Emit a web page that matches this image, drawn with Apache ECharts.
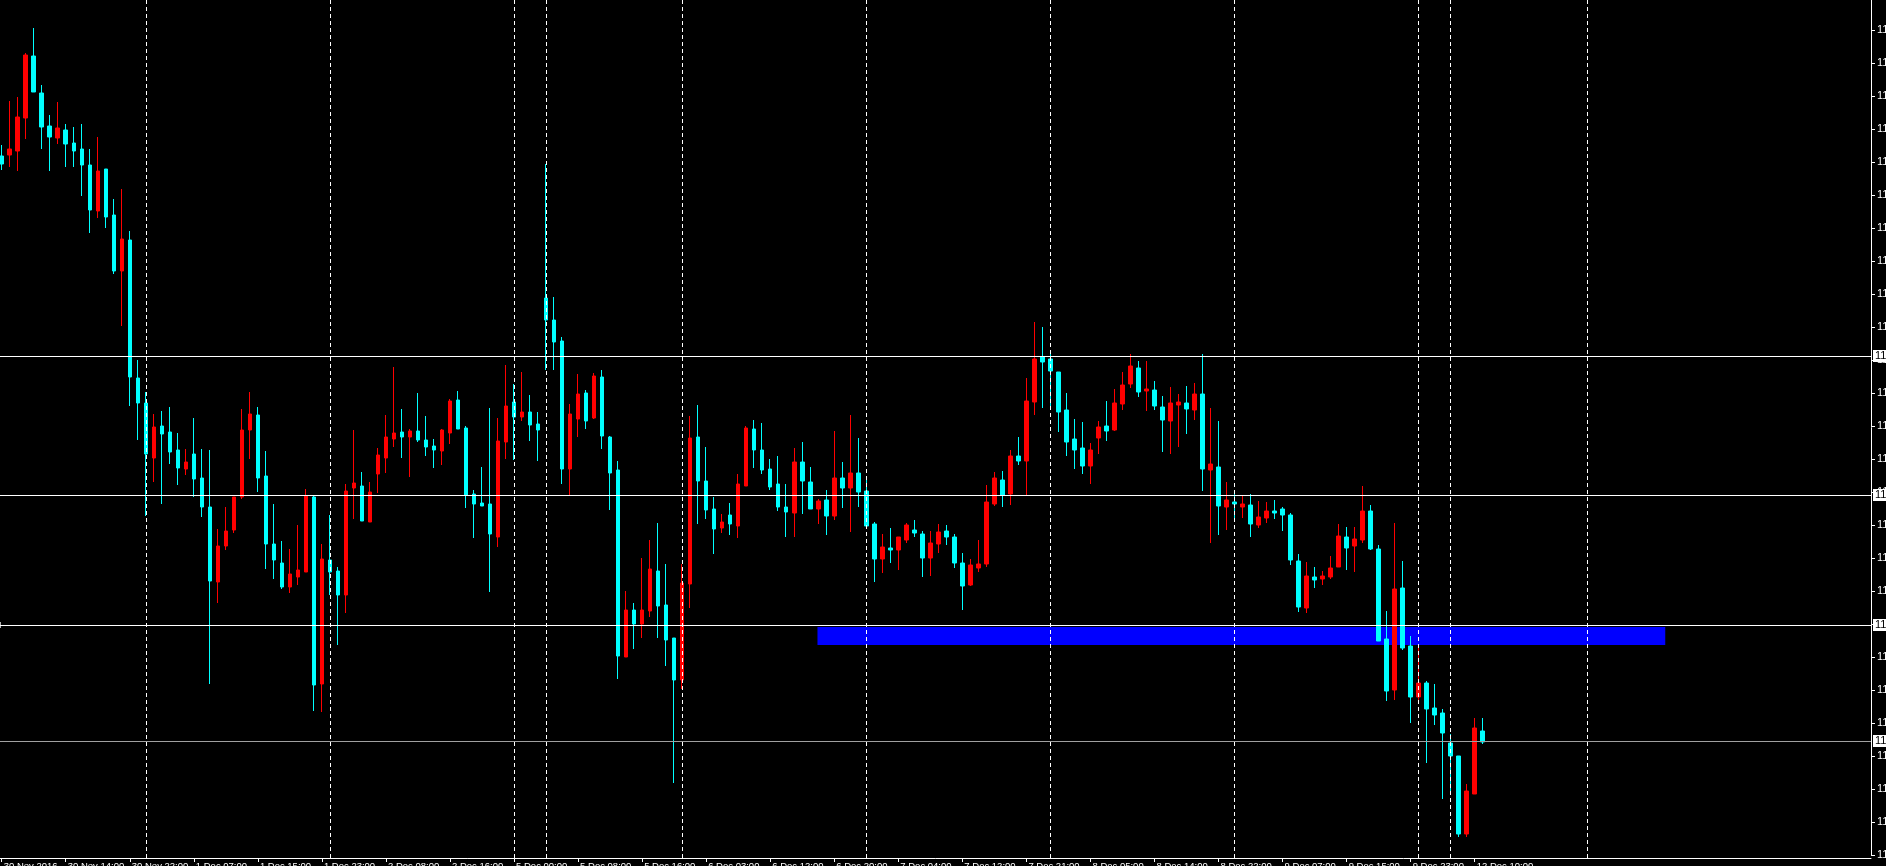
<!DOCTYPE html>
<html><head><meta charset="utf-8">
<script src="https://cdn.jsdelivr.net/npm/echarts@6/dist/echarts.min.js"></script>
<style>html,body{margin:0;padding:0;background:#000;overflow:hidden}#c{width:1886px;height:866px}</style>
</head><body><div id="c"></div>
<script>
const opens = [
1185.3,1185.4,1185.8,1189.1,1195.3,1191.6,1188.3,1187.1,1187.9,1186.6,
1186.0,1184.4,1179.8,1184.0,1179.4,1173.8,1176.9,1163.1,1160.6,1155.1,
1158.3,1157.7,1155.9,1154.0,1155.5,1153.1,1150.2,1142.7,1146.3,1147.9,
1151.2,1157.9,1159.4,1153.3,1146.5,1144.6,1142.2,1143.2,1143.7,1151.2,
1132.5,1144.9,1143.8,1141.4,1152.1,1152.3,1148.7,1153.5,1155.1,1157.0,
1157.7,1157.2,1157.8,1156.9,1156.3,1155.8,1157.6,1160.9,1158.1,1151.5,
1150.6,1150.5,1147.2,1156.7,1160.7,1159.2,1159.7,1158.5,1171.1,1168.9,
1166.8,1154.0,1159.0,1161.6,1159.1,1163.2,1157.2,1153.9,1135.2,1139.9,
1138.5,1139.8,1143.8,1140.4,1137.1,1132.9,1142.5,1157.2,1152.8,1150.0,
1148.1,1149.4,1148.3,1152.3,1158.0,1155.9,1154.0,1152.5,1150.2,1149.6,
1154.7,1152.7,1150.0,1150.9,1149.3,1153.1,1152.1,1153.6,1151.8,1148.5,
1145.0,1146.1,1145.9,1146.9,1147.9,1147.5,1145.1,1146.5,1147.8,1147.2,
1144.6,1142.4,1144.1,1144.5,1150.5,1152.9,1151.5,1155.3,1154.8,1160.7,
1165.2,1165.0,1163.7,1159.9,1157.0,1156.1,1154.3,1157.1,1158.3,1157.9,
1160.5,1162.5,1164.1,1161.8,1161.9,1160.2,1158.8,1160.4,1160.6,1159.9,
1161.5,1153.9,1154.2,1150.2,1150.7,1150.2,1150.4,1148.4,1149.1,1149.8,
1150.0,1149.4,1144.8,1140.1,1143.2,1143.0,1143.2,1144.2,1147.2,1146.3,
1146.9,1149.8,1146.0,1137.0,1131.9,1142.1,1136.3,1131.2,1132.6,1130.1,
1129.6,1126.6,1125.3,1117.5,1121.5,1127.8];
const closes = [
1184.5,1186.0,1189.2,1195.4,1191.7,1188.2,1187.2,1188.1,1186.5,1185.8,
1184.4,1179.9,1183.8,1179.2,1173.8,1177.0,1163.2,1160.6,1155.5,1158.2,
1157.5,1155.7,1154.1,1154.7,1153.0,1150.2,1142.8,1146.3,1147.8,1151.2,
1157.9,1159.5,1153.1,1146.5,1144.9,1142.2,1143.5,1143.9,1151.3,1132.4,
1145.0,1143.7,1141.4,1151.8,1152.6,1148.8,1151.7,1155.4,1157.2,1157.6,
1157.2,1157.8,1156.9,1156.2,1155.9,1157.9,1160.8,1158.0,1151.4,1150.5,
1150.3,1147.5,1156.8,1160.3,1159.2,1159.7,1158.4,1157.9,1168.9,1166.7,
1154.0,1159.5,1161.5,1158.8,1163.3,1157.3,1153.6,1135.3,1139.9,1138.5,
1139.9,1144.0,1140.3,1136.9,1132.9,1142.6,1157.1,1152.8,1149.9,1148.0,
1148.7,1148.5,1152.5,1158.1,1155.9,1153.9,1152.2,1150.2,1149.7,1154.7,
1152.8,1150.0,1150.8,1149.3,1153.1,1152.1,1153.6,1151.7,1148.3,1145.0,
1146.2,1145.9,1147.2,1148.4,1147.6,1145.1,1146.6,1147.7,1147.2,1144.6,
1142.3,1144.4,1144.5,1150.7,1153.1,1151.4,1155.3,1154.8,1160.8,1165.0,
1164.7,1163.8,1159.7,1156.7,1155.9,1154.3,1155.9,1158.2,1157.8,1160.6,
1162.4,1164.3,1161.7,1162.0,1160.3,1158.9,1160.6,1160.7,1160.0,1161.5,
1154.0,1154.5,1150.3,1150.9,1150.5,1150.5,1148.5,1149.2,1149.8,1149.6,
1149.4,1144.9,1140.2,1143.3,1142.9,1143.3,1144.1,1147.3,1146.1,1147.0,
1149.8,1146.0,1136.8,1131.8,1142.0,1136.1,1131.2,1132.6,1130.0,1129.4,
1127.6,1125.3,1117.5,1121.8,1128.1,1126.7];
const highs = [
1186.4,1190.8,1191.2,1195.6,1198.1,1192.4,1189.4,1190.7,1188.5,1188.2,
1188.5,1186.0,1187.2,1184.0,1181.0,1182.0,1177.8,1164.9,1161.7,1159.5,
1159.8,1160.2,1157.6,1156.0,1159.1,1156.0,1155.9,1148.0,1150.2,1151.2,
1160.0,1161.7,1160.2,1155.8,1150.5,1146.8,1146.0,1148.4,1152.0,1151.3,
1146.5,1149.4,1144.2,1152.5,1157.9,1153.7,1152.7,1156.1,1159.4,1164.2,
1160.0,1158.0,1161.6,1159.3,1157.0,1158.0,1161.0,1161.8,1158.3,1151.9,
1154.2,1160.1,1159.1,1164.4,1162.5,1163.7,1161.4,1159.7,1184.5,1171.2,
1167.2,1160.5,1163.5,1161.9,1163.6,1163.9,1157.3,1154.8,1141.8,1140.6,
1145.1,1146.9,1148.6,1144.5,1137.1,1144.5,1159.3,1160.4,1156.2,1151.2,
1149.5,1150.6,1153.5,1158.3,1158.9,1158.6,1155.0,1155.3,1152.5,1156.1,
1156.7,1154.2,1151.0,1151.9,1157.8,1154.7,1159.4,1157.1,1153.3,1148.7,
1147.5,1148.1,1147.2,1148.6,1148.9,1147.8,1147.8,1148.5,1148.4,1147.5,
1145.6,1145.0,1146.9,1152.4,1153.7,1153.8,1155.9,1157.2,1163.1,1168.7,
1168.2,1165.9,1163.7,1161.6,1159.0,1158.7,1156.6,1158.8,1160.8,1162.0,
1163.7,1165.5,1164.8,1164.8,1162.8,1161.3,1162.2,1161.5,1162.3,1162.6,
1165.5,1160.1,1158.8,1152.7,1151.5,1151.4,1151.5,1150.8,1150.7,1150.9,
1150.2,1149.6,1145.5,1144.7,1144.2,1143.8,1145.3,1148.5,1148.2,1148.2,
1152.3,1150.4,1146.4,1139.8,1148.6,1144.8,1137.3,1136.1,1132.8,1132.5,
1130.0,1127.5,1125.3,1122.5,1129.1,1129.1];
const lows = [
1183.9,1184.2,1183.8,1187.0,1191.7,1186.0,1183.8,1186.5,1184.2,1184.2,
1181.3,1177.6,1179.1,1178.1,1173.5,1168.3,1160.3,1156.9,1149.3,1152.7,
1150.5,1154.5,1152.4,1153.4,1151.2,1149.2,1132.5,1140.6,1145.9,1147.6,
1151.0,1155.0,1151.7,1144.0,1143.0,1142.0,1141.6,1142.4,1143.7,1129.8,
1129.7,1141.4,1136.4,1139.6,1149.0,1148.8,1148.7,1151.6,1153.6,1156.2,
1155.1,1153.2,1156.7,1155.3,1154.1,1154.4,1156.5,1158.0,1150.1,1147.1,
1150.3,1141.7,1146.2,1155.0,1154.9,1158.8,1156.8,1154.8,1163.9,1163.9,
1152.5,1151.4,1157.2,1158.0,1159.0,1156.0,1149.9,1133.0,1135.2,1136.0,
1137.1,1139.2,1137.1,1134.3,1122.6,1132.0,1140.1,1148.5,1149.0,1145.5,
1147.6,1147.4,1147.1,1152.3,1154.1,1153.5,1151.9,1149.8,1147.2,1147.2,
1149.5,1150.0,1148.5,1147.4,1148.9,1150.1,1147.7,1150.2,1148.3,1142.7,
1143.6,1144.6,1143.9,1146.6,1147.2,1143.2,1143.3,1145.6,1146.4,1144.1,
1139.9,1142.3,1143.7,1144.2,1150.3,1150.2,1150.4,1154.4,1151.4,1159.4,
1160.1,1160.1,1157.7,1155.3,1154.0,1153.5,1152.5,1155.5,1156.8,1157.8,
1159.9,1162.1,1161.2,1159.8,1159.9,1155.7,1155.5,1156.2,1157.5,1158.9,
1151.8,1146.6,1147.4,1147.9,1148.8,1149.1,1147.2,1148.1,1148.6,1149.0,
1147.8,1144.4,1139.7,1139.6,1142.1,1142.4,1143.0,1144.2,1143.9,1143.7,
1146.6,1145.9,1136.8,1130.8,1130.9,1135.9,1128.6,1130.5,1124.6,1128.4,
1121.0,1121.8,1117.2,1117.2,1121.5,1126.5];
const xTickLabels = ["30 Nov 2016","30 Nov 14:00","30 Nov 22:00","1 Dec 07:00","1 Dec 15:00","1 Dec 23:00",
"2 Dec 08:00","2 Dec 16:00","5 Dec 00:00","5 Dec 08:00","5 Dec 16:00","6 Dec 03:00","6 Dec 12:00",
"6 Dec 20:00","7 Dec 04:00","7 Dec 12:00","7 Dec 21:00","8 Dec 05:00","8 Dec 14:00","8 Dec 22:00",
"9 Dec 07:00","9 Dec 15:00","9 Dec 23:00","12 Dec 10:00"];
const levelPrices = [1165.3, 1151.4, 1138.4, 1126.8];
const separatorBars = [18, 41, 64, 68, 85, 108, 131, 154, 177, 181, 198];
const zoneBars = [101.9, 207.8];
const zonePrices = [1138.2, 1136.4];
const slotCount = 234;
const labelStep = 8;

const cats = []; for (let i = 0; i < slotCount; i++) cats.push(String(i));
const candles = opens.map((o, i) => [o, closes[i], lows[i], highs[i]]);
const lastBar = opens.length - 1;
const showTick = (idx) => idx % labelStep === 0 && idx <= lastBar;

const chart = echarts.init(document.getElementById('c'), null, {renderer: 'canvas'});
const font = 'Liberation Sans, DejaVu Sans, sans-serif';
chart.setOption({
  backgroundColor: '#000000',
  animation: false,
  grid: [
    {left: -2.3, right: 15, top: 0, bottom: 11, containLabel: false, outerBoundsMode: 'none'},
    {left: -2.3, right: 15, top: 0, bottom: 8, containLabel: false, outerBoundsMode: 'none'}
  ],
  xAxis: [
    {type: 'category', gridIndex: 0, data: cats, boundaryGap: true, offset: 3,
     axisLine: {show: true, lineStyle: {color: '#ffffff', width: 1}},
     axisTick: {show: true, alignWithLabel: true, interval: (i) => showTick(i), length: 4, lineStyle: {color: '#ffffff'}},
     axisLabel: {show: true, interval: (i) => showTick(i), color: '#ffffff', fontSize: 9.5, fontFamily: font,
       align: 'left', margin: 3, padding: [0, 0, 0, 2], hideOverlap: false,
       formatter: (v, i) => { const k = Math.round(Number(v)); return (k % labelStep === 0 && k / labelStep < xTickLabels.length) ? xTickLabels[k / labelStep] : ''; }},
     splitLine: {show: false}},
    {type: 'value', gridIndex: 1, min: -0.5, max: slotCount - 0.5, show: false}
  ],
  yAxis: [
    {type: 'value', gridIndex: 0, position: 'right', min: 1115.4, max: 1200.9, interval: 3.3,
     axisLine: {show: true, lineStyle: {color: '#ffffff', width: 1}},
     axisTick: {show: true, inside: false, length: 4, lineStyle: {color: '#ffffff'}},
     axisLabel: {show: true, color: '#ffffff', fontSize: 11, fontFamily: font, margin: 6, showMaxLabel: false, hideOverlap: false,
       formatter: (v) => v.toFixed(2)},
     splitLine: {show: false}},
    {type: 'value', gridIndex: 1, min: 1115.1, max: 1200.9, show: false}
  ],
  series: [
    {type: 'line', xAxisIndex: 1, yAxisIndex: 1, data: [], z: 1, symbol: 'none', silent: true,
     markArea: {silent: true, itemStyle: {color: '#0000ff', opacity: 1},
       data: [[{xAxis: zoneBars[0], yAxis: zonePrices[0]}, {xAxis: zoneBars[1], yAxis: zonePrices[1]}]]},
     markLine: {silent: true, symbol: 'none', animation: false,
       lineStyle: {color: '#ffffff', width: 1, type: [4, 3]},
       label: {show: false},
       data: separatorBars.map(b => ({xAxis: b}))}
    },
    {type: 'candlestick', xAxisIndex: 0, yAxisIndex: 0, data: candles, barWidth: 4, z: 2,
     itemStyle: {color: '#ff0000', color0: '#00ffff', borderColor: '#ff0000', borderColor0: '#00ffff', borderWidth: 1}},
    {type: 'line', xAxisIndex: 1, yAxisIndex: 1, data: [], z: 3, symbol: 'none', silent: true,
     markLine: {silent: true, symbol: 'none', animation: false,
       label: {show: true, position: 'end', distance: 2, color: '#000000', backgroundColor: '#ffffff',
         fontSize: 11, fontFamily: font, padding: [1, 2, 0, 2], formatter: (p) => p.value.toFixed(2)},
       data: levelPrices.map((v, i) => ({yAxis: v,
         symbol: i === 2 ? 'rect' : 'none', symbolSize: i === 2 ? 6 : 0,
         lineStyle: {color: i === 3 ? '#a0a0a0' : '#ffffff', width: 1, type: 'solid'}}))}
    }
  ]
});
</script></body></html>
